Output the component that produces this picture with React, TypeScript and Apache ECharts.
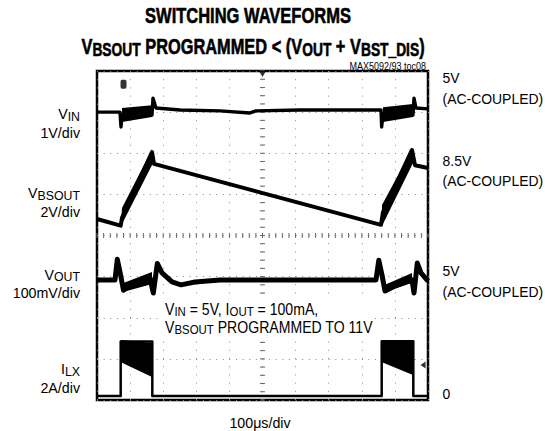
import React, { useEffect, useRef } from "react";
import * as echarts from "echarts";

// x in µs (100 µs/div, 10 div), y in screen divisions (0 = bottom, 8 = top)
const xMax = 1000;
const yMax = 8;

const vinTrace: number[][] = [
  [0, 7.0], [69.5, 7.0], [72.5, 6.64], [75.5, 6.93], [163.1, 7.03], [166.2, 6.93], [169.2, 7.34],
  [178.2, 7.1], [250.8, 7.05], [371.6, 7.03], [462.2, 6.98], [480.4, 7.03], [613.3, 7.05], [858, 7.05],
  [860.1, 6.64], [864, 6.95], [951.7, 7.03], [954.7, 6.93], [957.7, 7.34], [963.7, 7.1], [1000, 7.08],
];
const vinBands: number[][][] = [
  [[75.5, 7.1], [166.2, 7.17], [166.2, 6.88], [75.5, 6.76]],
  [[864, 7.12], [954.7, 7.2], [954.7, 6.88], [864, 6.76]],
];

const vbsoutTrace: number[][] = [
  [0, 4.4], [71.6, 4.24], [75.5, 4.43], [166.2, 6.03], [172.2, 5.74], [858, 4.26], [864, 4.57],
  [951.7, 6.08], [960.7, 5.71], [1000, 5.64],
];
const vbsoutBands: number[][][] = [
  [[75.5, 4.67], [166.2, 6.1], [169.2, 5.76], [72.5, 4.23]],
  [[861, 4.74], [951.7, 6.1], [954.7, 5.76], [861, 4.23]],
];

const voutTrace: number[][] = [
  [0, 2.92], [54.4, 2.92], [61.3, 3.42], [69.5, 3.11], [80.1, 2.67], [99.7, 2.8], [160.1, 2.97],
  [170.1, 2.6], [182.2, 3.32], [196.4, 3.09], [226.6, 2.87], [253.8, 2.8], [296.1, 2.87], [371.6, 2.92],
  [842.9, 2.92], [851.4, 3.4], [861, 3.04], [870.1, 2.65], [900.3, 2.77], [951.7, 2.92], [957.7, 2.6],
  [967.7, 3.33], [978.9, 3.09], [1000, 2.89],
];
const voutBands: number[][][] = [
  [[81.6, 2.85], [166.2, 3.11], [166.2, 2.82], [81.6, 2.63]],
  [[870.1, 2.8], [951.7, 3.09], [951.7, 2.85], [870.1, 2.63]],
];

const ilxTrace: number[][] = [
  [0, 0.1], [71.6, 0.1], [71.6, 1.42], [167.1, 1.42], [167.1, 0.1], [860.1, 0.1], [860.1, 1.43],
  [955.6, 1.43], [955.6, 0.1], [1000, 0.1],
];
const ilxBands: number[][][] = [
  [[72.5, 1.46], [166.2, 1.39], [166.2, 0.56], [72.5, 0.92]],
  [[861, 1.46], [954.7, 1.41], [954.7, 0.61], [861, 0.92]],
];

const triggerMark = [[80.1, 7.68]];
const centerMark = [[500, 7.93]];
const levelMark = [[985, 0.85]];

const leftLabels = [
  { main: "{m|V}{s|IN}", scale: "1V/div", y: 113.8 },
  { main: "{m|V}{s|BSOUT}", scale: "2V/div", y: 193 },
  { main: "{m|V}{s|OUT}", scale: "100mV/div", y: 274.5 },
  { main: "{m|I}{s|LX}", scale: "2A/div", y: 368.7 },
];
const rightLabels = [
  { text: "5V", y: 78 },
  { text: "(AC-COUPLED)", y: 98.5 },
  { text: "8.5V", y: 161 },
  { text: "(AC-COUPLED)", y: 181 },
  { text: "5V", y: 271 },
  { text: "(AC-COUPLED)", y: 292 },
  { text: "0", y: 394 },
];

const FONT = "'Liberation Sans', Arial, Helvetica, sans-serif";

// rich styles: main text centred in its line box, subscript dropped by `drop` px
const richStyles = (main: number, sub: number, L: number, drop: number, weight = "normal", stroke = 0) => {
  const subLH = L - 0.7 * main + 0.7 * sub - 2 * drop;
  const extra = stroke > 0 ? { stroke: "#000", lineWidth: stroke } : {};
  return {
    m: { fontSize: main, lineHeight: L, fontFamily: FONT, fontWeight: weight, fill: "#000", verticalAlign: "middle", ...extra },
    s: { fontSize: sub, lineHeight: subLH, fontFamily: FONT, fontWeight: weight, fill: "#000", verticalAlign: "bottom", ...extra },
    n: { fontSize: main, lineHeight: L, fontFamily: FONT, fontWeight: weight, fill: "#000", verticalAlign: "middle", ...extra },
  };
};

export default function App() {
  const ref = useRef<HTMLDivElement>(null);
  useEffect(() => {
    document.body.style.margin = "0";
    const chart = echarts.init(ref.current!, null, { renderer: "svg" });
    const allBands = [...vinBands, ...vbsoutBands, ...voutBands, ...ilxBands];
    const lineSeries = (data: number[][], width: number) => ({
      type: "line",
      data,
      showSymbol: false,
      silent: true,
      z: 5,
      lineStyle: { color: "#000", width, join: "round" },
    });
    const graphics: any[] = [
      {
        type: "text", x: 248, y: 15.5, scaleX: 0.75,
        style: {
          text: "SWITCHING WAVEFORMS", fontSize: 22, fontWeight: "bold", fontFamily: FONT,
          fill: "#000", stroke: "#000", lineWidth: 0.6, align: "center", verticalAlign: "middle",
        },
      },
      {
        type: "text", x: 253, y: 46, scaleX: 0.745,
        style: {
          text: "{m|V}{s|BSOUT}{m| PROGRAMMED < (V}{s|OUT}{m| + V}{s|BST_DIS}{m|)}",
          rich: richStyles(22, 18.5, 26, 1.8, "bold", 0.6), align: "center", verticalAlign: "middle",
        },
      },
      {
        type: "text", x: 426, y: 66, scaleX: 0.9,
        style: { text: "MAX5092/93 toc08", fontSize: 10, fontFamily: FONT, fill: "#000", align: "right", verticalAlign: "middle" },
      },
      { type: "rect", shape: { x: 162, y: 300, width: 212, height: 37 }, style: { fill: "#fff" }, z: 3 },
      {
        type: "text", x: 165, y: 309 - 9.25, z: 4, scaleX: 0.88,
        style: {
          text: "{m|V}{s|IN}{m| = 5V, I}{s|OUT}{m| = 100mA,}\n{m|V}{s|BSOUT}{m| PROGRAMMED TO 11V}",
          rich: richStyles(16, 13, 18.5, 2.5), align: "left", verticalAlign: "top",
        },
      },
      {
        type: "text", x: 260, y: 422.5, scaleX: 0.95,
        style: { text: "100μs/div", fontSize: 15, fontFamily: FONT, fill: "#000", align: "center", verticalAlign: "middle" },
      },
    ];
    leftLabels.forEach((l) => {
      graphics.push({
        type: "text", x: 80, y: l.y - 9.35, scaleX: 0.95,
        style: { text: `${l.main}\n{n|${l.scale}}`, rich: richStyles(15, 13, 18.7, 2.4), align: "right", verticalAlign: "top" },
      });
    });
    rightLabels.forEach((l) => {
      graphics.push({
        type: "text", x: 442.5, y: l.y, scaleX: 0.9,
        style: { text: l.text, fontSize: 15.5, fontFamily: FONT, fill: "#000", align: "left", verticalAlign: "middle" },
      });
    });

    chart.setOption({
      animation: false,
      grid: { left: 97, top: 71, width: 331, height: 329, show: true, borderColor: "#000", borderWidth: 2.5, backgroundColor: "#fff", z: 0 },
      xAxis: {
        type: "value", min: 0, max: xMax, interval: 100,
        axisLine: { show: false }, axisTick: { show: false }, axisLabel: { show: false },
        splitLine: { show: true, lineStyle: { color: "#8a8a8a", width: 1, type: [1, 7.2] } },
      },
      yAxis: {
        type: "value", min: 0, max: yMax, interval: 1,
        axisLine: { show: false }, axisTick: { show: false }, axisLabel: { show: false },
        splitLine: { show: true, lineStyle: { color: "#8a8a8a", width: 1, type: [1, 5.62] } },
      },
      graphic: graphics,
      series: [
        {
          type: "custom",
          silent: true,
          z: 2,
          data: [[xMax / 2, yMax / 2]],
          renderItem: (params: any, api: any) => {
            const children: any[] = [];
            for (let i = 0; i <= 50; i++) {
              const p = api.coord([(i * xMax) / 50, yMax / 2]);
              children.push({ type: "line", shape: { x1: p[0], y1: p[1] - 2.5, x2: p[0], y2: p[1] + 2.5 }, style: { stroke: "#666", lineWidth: 1 } });
            }
            for (let j = 0; j <= 40; j++) {
              const p = api.coord([xMax / 2, (j * yMax) / 40]);
              children.push({ type: "line", shape: { x1: p[0] - 2.5, y1: p[1], x2: p[0] + 2.5, y2: p[1] }, style: { stroke: "#666", lineWidth: 1 } });
            }
            return { type: "group", children };
          },
        },
        {
          type: "custom",
          silent: true,
          z: 4,
          data: allBands.map((b) => b[0]),
          renderItem: (params: any, api: any) => {
            const pts = allBands[params.dataIndex].map((p) => api.coord(p));
            return { type: "polygon", shape: { points: pts }, style: { fill: "#000" } };
          },
        },
        lineSeries(vinTrace, 3.4),
        lineSeries(vbsoutTrace, 4),
        lineSeries(voutTrace, 5),
        lineSeries(ilxTrace, 2.5),
        { type: "scatter", data: triggerMark, symbol: "roundRect", symbolSize: [6, 9], itemStyle: { color: "#000" }, silent: true, z: 6 },
        { type: "scatter", data: centerMark, symbol: "triangle", symbolRotate: 180, symbolSize: [7, 6], itemStyle: { color: "#000" }, silent: true, z: 6 },
        { type: "scatter", data: levelMark, symbol: "triangle", symbolRotate: 90, symbolSize: [7, 5], itemStyle: { color: "#000" }, silent: true, z: 6 },
      ],
    });
    return () => chart.dispose();
  }, []);
  return <div ref={ref} style={{ width: 545, height: 431 }} />;
}
